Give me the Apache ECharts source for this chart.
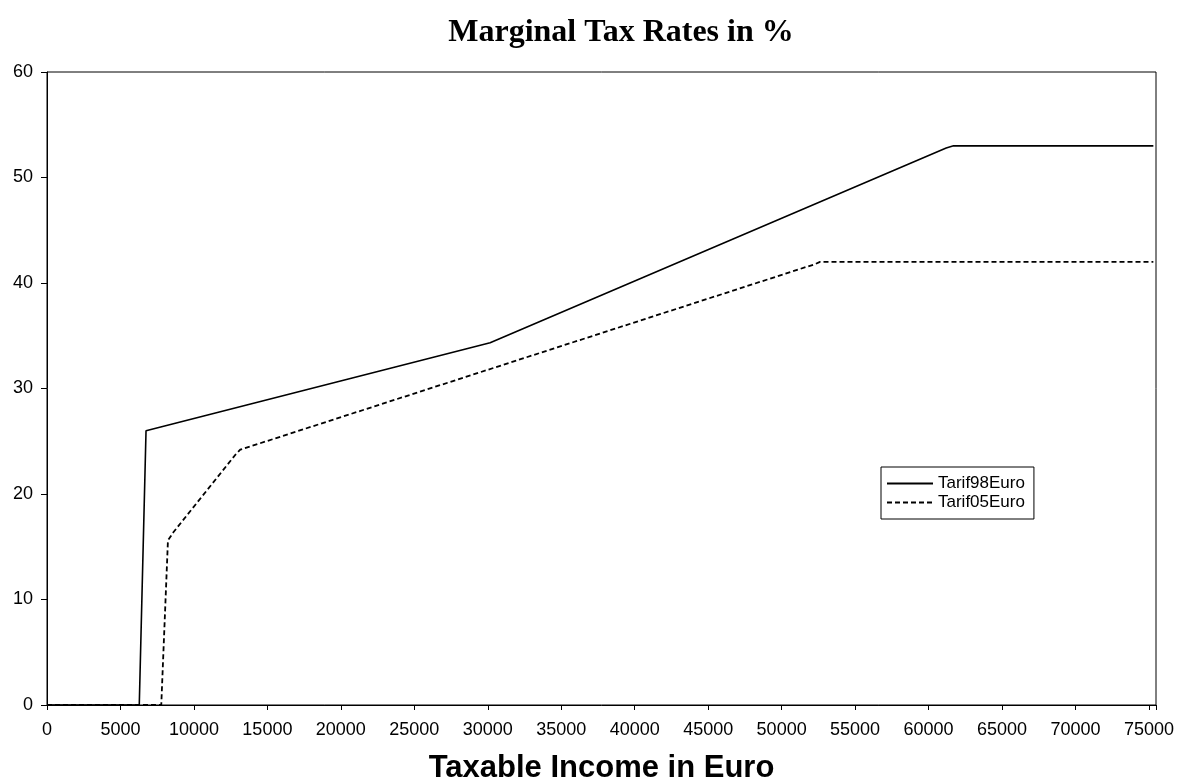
<!DOCTYPE html>
<html>
<head>
<meta charset="utf-8">
<script src="https://cdn.jsdelivr.net/npm/echarts@6/dist/echarts.min.js"></script>
<style>html,body{margin:0;padding:0;background:#fff;}#chart{width:1184px;height:782px;}</style>
</head>
<body>
<div id="chart"></div>
<script>
// Data
var seriesNames = ['Tarif98Euro', 'Tarif05Euro'];
var tarif98Income = [0, 6280, 6740, 30160, 61200, 61700, 75300];
var tarif98Rate   = [0, 0, 26.0, 34.34, 52.8, 53.0, 53.0];
var tarif05Income = [0, 7777, 8232, 8614, 12810, 13151, 52300, 52613, 75300];
var tarif05Rate   = [0, 0, 15.6, 16.4, 23.7, 24.2, 41.8, 42.0, 42.0];
var yTicks = [0, 10, 20, 30, 40, 50, 60];
var xTickStep = 5000;

function pairs(xs, ys) { return xs.map(function (x, i) { return [x, ys[i]]; }); }

var chart = echarts.init(document.getElementById('chart'), null, {renderer: 'canvas'});
var axisFont = 'Liberation Sans, Arial, sans-serif';
chart.setOption({
  backgroundColor: '#fff',
  animation: false,
  title: {
    text: 'Marginal Tax Rates in %',
    left: 616, textAlign: 'center',
    top: 12,
    textStyle: {fontFamily: 'Liberation Serif, Times New Roman, serif', fontWeight: 'bold', fontSize: 32, color: '#000'}
  },
  legend: {
    orient: 'vertical',
    left: 881, top: 467,
    itemWidth: 46, itemHeight: 14, itemGap: 2,
    padding: [8, 9, 8, 5],
    borderColor: '#000', borderWidth: 1,
    itemStyle: {opacity: 0},
    textStyle: {fontFamily: axisFont, fontSize: 17, color: '#000'},
    data: seriesNames
  },
  grid: {left: 47, right: 28, top: 72, bottom: 77, containLabel: false, outerBoundsMode: 'none',
         show: true, borderColor: '#000', borderWidth: 1, backgroundColor: '#fff'},
  xAxis: {
    type: 'value', min: 0, max: 75480, interval: xTickStep,
    name: 'Taxable Income in Euro', nameLocation: 'middle', nameGap: 48,
    nameTextStyle: {fontFamily: axisFont, fontWeight: 'bold', fontSize: 31, color: '#000'},
    axisLine: {lineStyle: {color: '#000', width: 1}},
    axisTick: {show: true, length: 5, lineStyle: {color: '#000'}},
    axisLabel: {margin: 16, fontFamily: axisFont, fontSize: 18, color: '#000',
      formatter: function (v) { return v % xTickStep === 0 ? String(v) : ''; }},
    splitLine: {show: false}
  },
  yAxis: {
    type: 'value', min: yTicks[0], max: yTicks[yTicks.length - 1], interval: 10,
    axisLine: {show: true, lineStyle: {color: '#000', width: 1}},
    axisTick: {show: true, length: 6, lineStyle: {color: '#000'}},
    axisLabel: {margin: 14, fontFamily: axisFont, fontSize: 18, color: '#000'},
    splitLine: {show: false}
  },
  series: [
    {name: seriesNames[0], type: 'line', symbol: 'none', data: pairs(tarif98Income, tarif98Rate),
     lineStyle: {color: '#000', width: 1.6, type: 'solid'}, itemStyle: {color: '#000'}},
    {name: seriesNames[1], type: 'line', symbol: 'none', data: pairs(tarif05Income, tarif05Rate),
     lineStyle: {color: '#000', width: 1.8, type: [5, 3]}, itemStyle: {color: '#000'}}
  ]
});
</script>
</body>
</html>
